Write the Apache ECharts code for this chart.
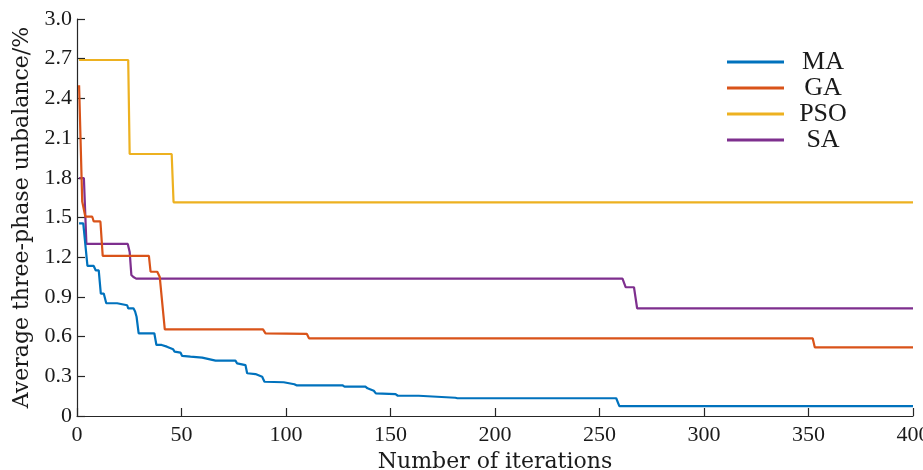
<!DOCTYPE html>
<html>
<head>
<meta charset="utf-8">
<script src="https://cdn.jsdelivr.net/npm/echarts@6/dist/echarts.min.js"></script>
<style>
html,body{margin:0;padding:0;background:#fff;}
#main{width:923px;height:470px;}
</style>
</head>
<body>
<div id="main"></div>
<script>
const seriesNames = ['MA', 'GA', 'PSO', 'SA'];
const xTicks = [0, 50, 100, 150, 200, 250, 300, 350, 400];
const yTicks = [0, 0.3, 0.6, 0.9, 1.2, 1.5, 1.8, 2.1, 2.4, 2.7, 3.0];

// [iteration, average three-phase unbalance %]
const maData = [
  [1,1.456],[3,1.456],[5,1.134],[8,1.134],[9,1.10],[10.4,1.10],[11.4,0.925],[12.8,0.925],
  [14,0.852],[19.2,0.852],[19.6,0.837],[24,0.837],[24.5,0.814],[27,0.814],[27.8,0.79],
  [28.5,0.75],[29.5,0.625],[37,0.625],[38,0.537],[40.5,0.537],[41,0.524],[43,0.524],
  [43.5,0.511],[46,0.504],[46.7,0.486],[49.5,0.479],[50.3,0.454],[54.3,0.448],[59.9,0.441],
  [60.7,0.428],[66.3,0.418],[75.8,0.418],[76.6,0.398],[80.6,0.385],[81.4,0.323],[85.4,0.317],
  [88.6,0.297],[89.7,0.259],[98.9,0.255],[99.8,0.242],[104,0.240],[105,0.232],[127,0.232],
  [128,0.222],[138,0.222],[139,0.209],[142,0.191],[143,0.171],[152.4,0.166],[153.5,0.153],
  [163.5,0.153],[164.4,0.138],[181,0.138],[182,0.134],[258,0.134],[259.5,0.075],[400,0.075]
];
const gaData = [
  [1,2.50],[2.5,1.62],[3,1.62],[4,1.506],[7.3,1.506],[8,1.47],[11.2,1.47],[12.3,1.21],
  [34.4,1.21],[35.2,1.09],[38.4,1.09],[39.6,1.05],[40.2,1.04],[42,0.655],[89,0.655],
  [90.2,0.625],[110,0.62],[111,0.587],[352,0.587],[353,0.519],[400,0.519]
];
const psoData = [
  [1,2.69],[24.5,2.69],[25.2,1.98],[45.3,1.98],[46.2,1.615],[400,1.615]
];
const saData = [
  [1,1.797],[3.3,1.797],[4.5,1.30],[24.3,1.30],[25.2,1.24],[26,1.066],[27,1.05],
  [28.3,1.038],[261,1.038],[262.5,0.973],[266.5,0.973],[268,0.814],[400,0.814]
];

const colors = ['#0072BD', '#D95319', '#EDB120', '#7E2F8E'];
const allData = [maData, gaData, psoData, saData];

const chart = echarts.init(document.getElementById('main'), null, {renderer: 'canvas'});
const serif = 'DejaVu Serif';
const tickFont = 'Liberation Serif';

chart.setOption({
  animation: false,
  backgroundColor: '#ffffff',
  grid: {left: 77, right: 10, top: 19, bottom: 54, containLabel: false, outerBoundsMode: 'none'},
  legend: {
    orient: 'vertical',
    left: 722,
    top: 44,
    icon: 'rect',
    itemWidth: 57,
    itemHeight: 3,
    itemGap: 0,
    data: seriesNames,
    formatter: '{c|{name}}',
    textStyle: {
      fontFamily: tickFont,
      fontSize: 26,
      color: '#1a1a1a',
      lineHeight: 26,
      rich: {c: {width: 68, align: 'center', fontFamily: tickFont, fontSize: 26, lineHeight: 26, color: '#1a1a1a'}}
    }
  },
  xAxis: {
    type: 'value',
    min: xTicks[0],
    max: xTicks[xTicks.length - 1],
    interval: 50,
    name: 'Number of iterations',
    nameLocation: 'middle',
    nameGap: 23,
    nameTextStyle: {fontFamily: serif, fontSize: 22, color: '#1a1a1a'},
    axisLine: {show: true, onZero: false, lineStyle: {color: '#262626', width: 1.2}},
    axisTick: {show: true, inside: true, length: 8, lineStyle: {color: '#262626', width: 1.2}},
    axisLabel: {fontFamily: tickFont, fontSize: 22, color: '#1a1a1a', margin: 8},
    splitLine: {show: false}
  },
  yAxis: {
    type: 'value',
    min: yTicks[0],
    max: yTicks[yTicks.length - 1],
    interval: 0.3,
    name: 'Average three-phase unbalance/%',
    nameLocation: 'middle',
    nameGap: 41,
    nameTextStyle: {fontFamily: serif, fontSize: 22, color: '#1a1a1a'},
    axisLine: {show: true, onZero: false, lineStyle: {color: '#262626', width: 1.2}},
    axisTick: {show: true, inside: true, length: 8, lineStyle: {color: '#262626', width: 1.2}},
    axisLabel: {
      fontFamily: tickFont, fontSize: 22, color: '#1a1a1a', margin: 5,
      formatter: function (v) { return Math.abs(v) < 1e-9 ? '0' : v.toFixed(1); }
    },
    splitLine: {show: false}
  },
  series: seriesNames.map(function (n, i) {
    return {
      name: n,
      type: 'line',
      data: allData[i],
      symbol: 'none',
      color: colors[i],
      lineStyle: {width: 2.2, color: colors[i]},
      z: 10 - i
    };
  })
});
</script>
</body>
</html>
